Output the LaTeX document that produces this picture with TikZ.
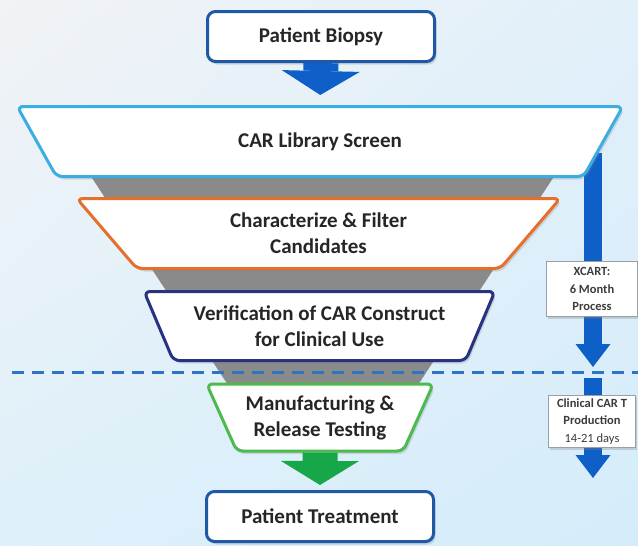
\documentclass[tikz,border=0pt]{standalone}
\usepackage{fontspec}
\setmainfont{Carlito}
\usepackage{xcolor}
\usetikzlibrary{arrows.meta, positioning, shapes.geometric, shadows, shadings}

\definecolor{bgTL}{RGB}{241,243,246}
\definecolor{bgTR}{RGB}{226,240,250}
\definecolor{bgBL}{RGB}{222,240,250}
\definecolor{bgBR}{RGB}{212,236,250}
\definecolor{boxblue}{RGB}{30,88,166}
\definecolor{libblue}{RGB}{58,174,224}
\definecolor{charorange}{RGB}{228,112,44}
\definecolor{verinavy}{RGB}{40,50,128}
\definecolor{manugreen}{RGB}{76,186,78}
\definecolor{arrowblue}{RGB}{14,96,200}
\definecolor{arrowgreen}{RGB}{22,168,72}
\definecolor{dashblue}{RGB}{46,116,196}
\definecolor{funnelgray}{RGB}{138,138,138}
\definecolor{textdark}{RGB}{38,38,38}
\definecolor{taggray}{RGB}{60,60,60}
\definecolor{tagborder}{RGB}{150,160,170}

\tikzset{
    endbox/.style={draw=boxblue, line width=3pt, rounded corners=8pt, fill=white,
        minimum width=227pt, minimum height=50pt, text=textdark,
        font=\bfseries\fontsize{21}{26}\selectfont,
        drop shadow={opacity=0.25, shadow xshift=2pt, shadow yshift=-3pt}},
    funnel/.style={trapezium, shape border rotate=180, trapezium stretches=true,
        fill=white, line width=3pt, rounded corners=6pt, inner sep=2pt,
        align=center, text=textdark, font=\bfseries\fontsize{21}{26}\selectfont,
        drop shadow={opacity=0.25, shadow xshift=2pt, shadow yshift=-3pt}},
    tag/.style={draw=tagborder, line width=0.8pt, fill=white, align=center,
        text=taggray, font=\bfseries\fontsize{12.5}{17.5}\selectfont,
        drop shadow={opacity=0.3, shadow xshift=1.5pt, shadow yshift=-2pt}},
    blockarrow/.style={line width=35pt, -{Triangle[length=24pt, width=78pt, line width=0pt]}},
    sidearrow/.style={draw=arrowblue, line width=18pt, -{Triangle[length=23pt, width=35pt, line width=0pt]}}
}

\begin{document}
\begin{tikzpicture}[x=1pt, y=-1pt]
    % 背景
    \useasboundingbox (0,0) rectangle (638,546);
    \shade[upper left=bgTL, upper right=bgTR, lower left=bgBL, lower right=bgBR]
        (0,0) rectangle (638,546);

    % 漏斗阴影
    \fill[funnelgray] (92,178) -- (553,178) -- (418,385) -- (228,385) -- cycle;

    % 右侧时间箭头 (上)
    \coordinate (xtop) at (593,153);
    \coordinate (xend) at (593,367);
    \draw[sidearrow] (xtop) -- (xend);

    % 首尾两个框
    \node[endbox] (biopsy) at (321,36.5) {Patient Biopsy};
    \node[endbox] (treat) at (320,516.5) {Patient Treatment};

    % 漏斗各层
    \node[funnel, draw=libblue, minimum width=606pt, minimum height=70pt,
        trapezium angle=60.5] (lib) at (320,141.5) {CAR Library Screen};
    \node[funnel, draw=charorange, minimum width=484pt, minimum height=70pt,
        trapezium angle=56.4] (filter) at (318.5,233.5) {Characterize \& Filter\\Candidates};
    \node[funnel, draw=verinavy, minimum width=352pt, minimum height=69pt,
        trapezium angle=60.4] (verify) at (319.5,326) {Verification of CAR Construct\\for Clinical Use};
    \node[funnel, draw=manugreen, minimum width=227pt, minimum height=67pt,
        trapezium angle=60.3] (manu) at (320,417.5) {Manufacturing \&\\Release Testing};

    % 块状箭头
    \draw[blockarrow, draw=arrowblue, shorten >=10pt] (biopsy.south) -- (lib.north);
    \draw[blockarrow, draw=arrowgreen, shorten >=5pt] (manu.south) -- (treat.north);

    % 分隔虚线
    \draw[dashblue, line width=3pt, dash pattern=on 12pt off 8pt] (12,372) -- (638,372);

    % 右侧时间箭头 (下)
    \coordinate (ctop) at (593,378);
    \coordinate (cend) at (593,478);
    \draw[sidearrow] (ctop) -- (cend);

    % 时间标签
    \node[tag, minimum width=91pt, minimum height=55pt] (xcart) at (592,289)
        {XCART:\\6 Month\\Process};
    \node[tag, minimum width=87pt, minimum height=52pt] (clin) at (592,421.5)
        {Clinical CAR T\\Production\\{\mdseries 14-21 days}};
\end{tikzpicture}
\end{document}
